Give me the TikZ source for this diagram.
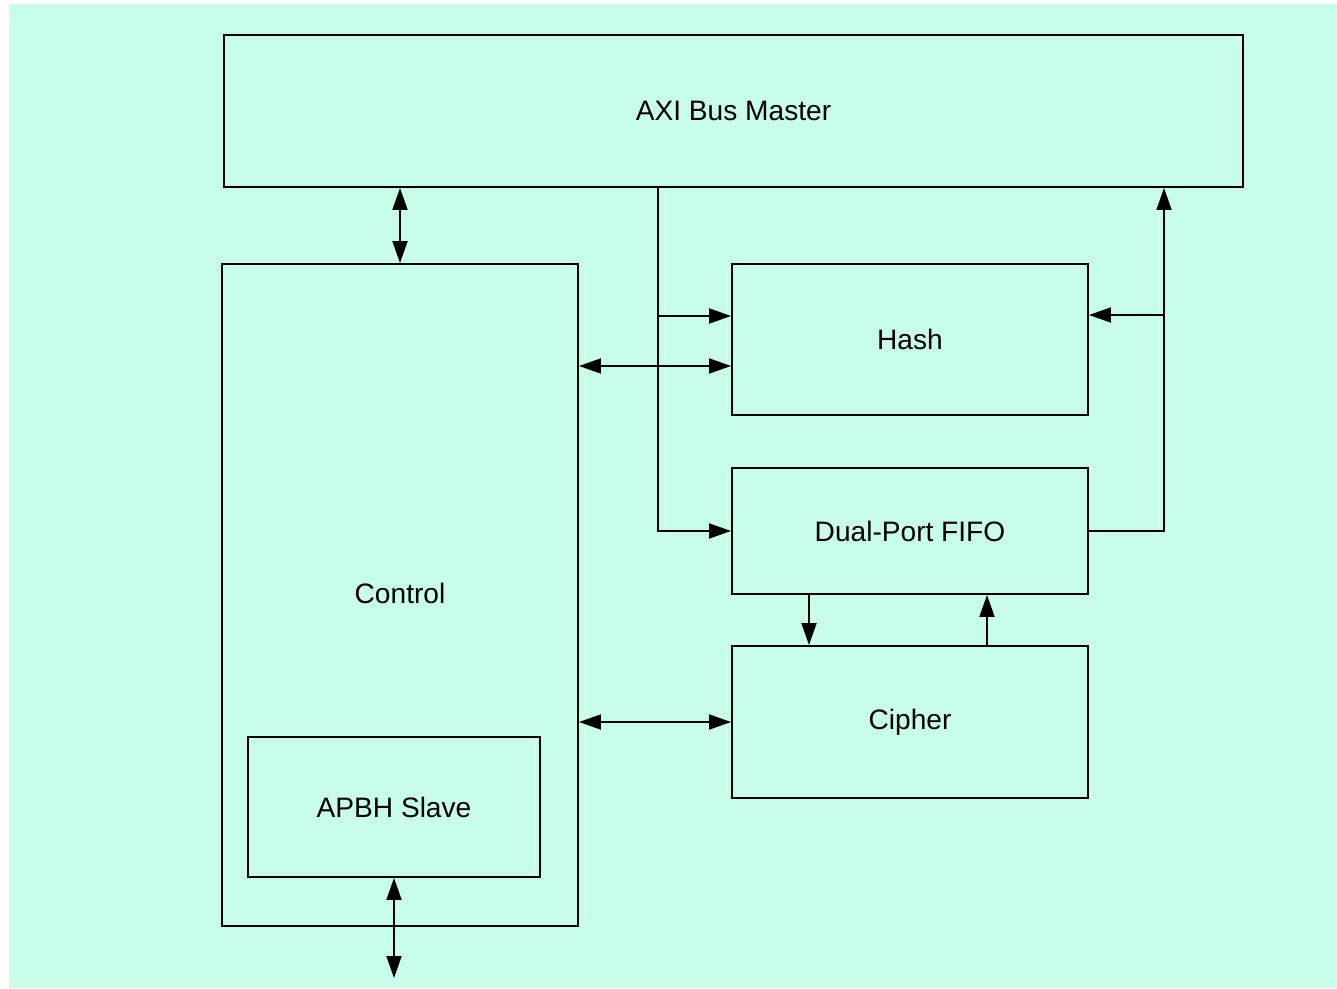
\documentclass[tikz,border=0pt]{standalone}
\usepackage{fontspec}
\setmainfont{Liberation Sans}
\usepackage{xcolor}
\usepackage{tikz}
\usetikzlibrary{arrows.meta, positioning, calc}
\definecolor{mintbg}{RGB}{200,253,232}

\begin{document}
\begin{tikzpicture}[
    >={Triangle[length=0.44cm, width=0.3cm]},
    block/.style={rectangle, draw=black, line width=1.1pt, minimum width=#1, align=center, font=\fontsize{16}{19}\selectfont},
    link/.style={line width=1.1pt, black}
]

% Background
\useasboundingbox (0,0) rectangle (26.74,19.76);
\fill[white] (0,0) rectangle (26.74,19.76);
\fill[mintbg] (0.18,0) rectangle (26.74,19.68);

% Blocks
\node[block=20.38cm, minimum height=3.04cm] (axi) at (14.67, 17.54) {AXI Bus Master};
\node[block=7.12cm, minimum height=13.24cm] (ctrl) at (8.0, 7.86) {};
\node[font=\fontsize{16}{19}\selectfont] (ctrltxt) at (8.0, 7.9) {Control};
\node[block=5.84cm, minimum height=2.8cm] (apbh) at (7.88, 3.62) {APBH Slave};
\node[block=7.12cm, minimum height=3.02cm] (hash) at (18.2, 12.97) {Hash};
\node[block=7.12cm, minimum height=2.52cm] (fifo) at (18.2, 9.14) {Dual-Port FIFO};
\node[block=7.12cm, minimum height=3.04cm] (cipher) at (18.2, 5.32) {Cipher};

% Tap points
\coordinate (tap) at (13.16, 0);
\coordinate (ret) at (23.28, 0);
\coordinate (ext) at (0, 0.2);
\coordinate (hashin) at ([yshift=0.47cm]hash.west);
\coordinate (ctlhash) at ([yshift=-0.53cm]hash.west);
\coordinate (hashret) at ([yshift=0.49cm]hash.east);

% Bus master <-> control
\draw[link, <->] (ctrl.north) -- (ctrl.north |- axi.south);

% Bus master down to hash and fifo
\draw[link, ->] (tap |- axi.south) |- (fifo.west);
\draw[link, ->] (tap |- hashin) -- (hashin);

% Control <-> hash, cipher
\foreach \t in {ctlhash, cipher.west}
    \draw[link, <->] (ctrl.east |- \t) -- (\t);

% Fifo back up to bus master and hash
\draw[link, ->] (fifo.east) -| (ret |- axi.south);
\draw[link, ->] (ret |- hashret) -- (hashret);

% Fifo <-> cipher
\draw[link, ->] ([xshift=-2.02cm]fifo.south) -- ([xshift=-2.02cm]fifo.south |- cipher.north);
\draw[link, ->] ([xshift=1.54cm]cipher.north) -- ([xshift=1.54cm]cipher.north |- fifo.south);

% APBH slave out
\draw[link, <->] (apbh.south) -- (apbh.south |- ext);

\end{tikzpicture}
\end{document}
